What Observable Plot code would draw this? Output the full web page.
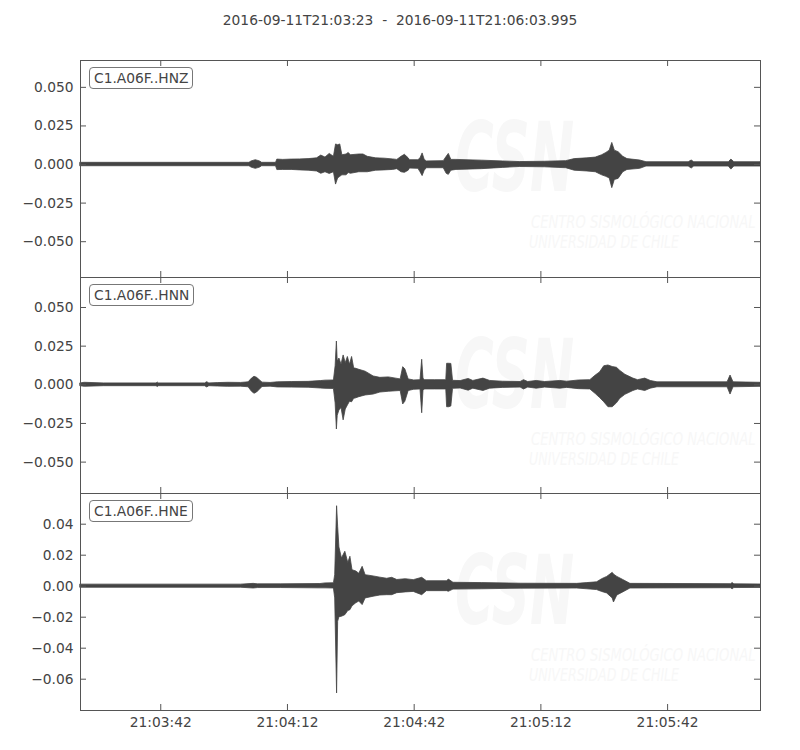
<!DOCTYPE html>
<html>
<head>
<meta charset="utf-8">
<script src="https://cdn.jsdelivr.net/npm/d3@7"></script>
<script src="https://cdn.jsdelivr.net/npm/@observablehq/plot@0.6"></script>
<style>
  html, body { margin: 0; padding: 0; background: #fff; }
  #wrap { position: relative; width: 800px; height: 750px; font-family: "DejaVu Sans", sans-serif; color: #444; }
  .title { position: absolute; top: 12px; left: 0; width: 800px; text-align: center; font-size: 13.8px; line-height: 16px; white-space: pre; }
  .lbl { position: absolute; left: 89px; border: 1px solid #777; border-radius: 4px; padding: 2px 4px; font-size: 13.8px; line-height: 16px; background: #fff; color: #444; z-index: 5; }
  .wm { position: absolute; color: #f7f7f7; font-style: italic; white-space: nowrap; transform-origin: left top; }
</style>
</head>
<body>
<div id="wrap"></div>
<script>
const titleText = "2016-09-11T21:03:23  -  2016-09-11T21:06:03.995";
const startTime = "2016-09-11T21:03:23Z";
const endTime = "2016-09-11T21:06:03.995Z";
const channels = ["C1.A06F..HNZ", "C1.A06F..HNN", "C1.A06F..HNE"];
const xTickLabels = ["21:03:42", "21:04:12", "21:04:42", "21:05:12", "21:05:42"];
const watermarkLines = ["CSN", "CENTRO SISMOLÓGICO NACIONAL", "UNIVERSIDAD DE CHILE"];

// envelope of each trace: seconds after start, upper and lower amplitude
const hnzT = [0,40,40.5,41.5,42.5,43,46.3,46.6,48,50,
  52,54,56,57,58,59,60,60.5,61,61.5,
  62,63,63.5,64,66,67,68,70,72,74,
  75,76,76.8,77.7,78,80,80.5,81,81.5,82,
  86,86.7,87.2,87.8,89,95,100,104,110,115,
  117,120,122,123.5,124.5,125.3,125.9,126.5,127.4,128.5,
  129.5,132.5,134,144,144.7,145.3,153.5,154.1,154.8,161];
const hnzHi = [0.0011,0.0011,0.0020,0.0028,0.0020,0.0011,0.0011,0.0032,0.0030,0.0032,
  0.0033,0.0035,0.0040,0.0058,0.0045,0.0069,0.0050,0.0130,0.0125,0.0130,
  0.0060,0.0065,0.0075,0.0060,0.0065,0.0065,0.0050,0.0040,0.0038,0.0033,
  0.0030,0.0050,0.0063,0.0040,0.0028,0.0028,0.0040,0.0072,0.0030,0.0020,
  0.0022,0.0050,0.0069,0.0030,0.0030,0.0025,0.0020,0.0016,0.0018,0.0022,
  0.0035,0.0040,0.0045,0.0060,0.0075,0.0090,0.0140,0.0090,0.0080,0.0050,
  0.0035,0.0026,0.0015,0.0015,0.0026,0.0015,0.0015,0.0032,0.0015,0.0015];
const hnzLo = [-0.0011,-0.0011,-0.0020,-0.0028,-0.0020,-0.0011,-0.0011,-0.0036,-0.0035,-0.0035,
  -0.0038,-0.0040,-0.0045,-0.0060,-0.0050,-0.0061,-0.0050,-0.0130,-0.0090,-0.0080,
  -0.0070,-0.0070,-0.0055,-0.0060,-0.0050,-0.0050,-0.0050,-0.0040,-0.0038,-0.0035,
  -0.0030,-0.0050,-0.0054,-0.0040,-0.0026,-0.0028,-0.0050,-0.0075,-0.0040,-0.0024,
  -0.0024,-0.0060,-0.0067,-0.0040,-0.0035,-0.0030,-0.0022,-0.0016,-0.0018,-0.0024,
  -0.0040,-0.0045,-0.0050,-0.0070,-0.0080,-0.0090,-0.0153,-0.0100,-0.0093,-0.0050,
  -0.0035,-0.0028,-0.0013,-0.0013,-0.0026,-0.0013,-0.0013,-0.0033,-0.0013,-0.0013];

const hnnT = [0,1,5.5,18,18.3,18.6,29.5,30,30.5,32.5,
  35,38,39.8,40.6,41.2,41.8,43.1,45,46.7,50,
  54,56.9,58,60,60.4,60.7,60.9,61.3,61.8,62.3,
  62.8,63.3,63.8,64.3,64.8,65.1,66,67.5,69.4,71,
  73,75.8,76.4,76.9,77.7,79,80.5,80.9,81.2,81.5,
  84,86.6,86.8,87.3,87.8,88.2,90,91.9,93,95.4,
  97,100,104.2,105,106,108,110,113.6,115.2,118,
  120.7,122,123,124,125,126,127,127.8,129,130.9,
  132,133.7,135,136.6,153.2,153.9,154.6,161];
const hnnHi = [0.0009,0.0013,0.0009,0.0009,0.0014,0.0009,0.0009,0.0017,0.0009,0.0011,
  0.0013,0.0012,0.0016,0.0040,0.0052,0.0045,0.0014,0.0012,0.0016,0.0018,
  0.0019,0.0024,0.0027,0.0028,0.0120,0.0280,0.0150,0.0170,0.0130,0.0190,
  0.0140,0.0180,0.0130,0.0180,0.0105,0.0105,0.0097,0.0085,0.0054,0.0045,
  0.0048,0.0035,0.0114,0.0100,0.0035,0.0028,0.0030,0.0162,0.0040,0.0030,
  0.0030,0.0030,0.0136,0.0136,0.0135,0.0026,0.0024,0.0038,0.0025,0.0040,
  0.0025,0.0020,0.0018,0.0030,0.0018,0.0025,0.0018,0.0025,0.0020,0.0028,
  0.0030,0.0060,0.0080,0.0120,0.0125,0.0115,0.0110,0.0090,0.0065,0.0040,
  0.0030,0.0040,0.0025,0.0016,0.0016,0.0060,0.0016,0.0013];
const hnnLo = [-0.0009,-0.0013,-0.0009,-0.0009,-0.0014,-0.0009,-0.0009,-0.0017,-0.0009,-0.0011,
  -0.0013,-0.0012,-0.0016,-0.0045,-0.0058,-0.0050,-0.0014,-0.0012,-0.0017,-0.0018,
  -0.0019,-0.0024,-0.0026,-0.0027,-0.0120,-0.0289,-0.0200,-0.0166,-0.0150,-0.0230,
  -0.0160,-0.0134,-0.0110,-0.0113,-0.0090,-0.0089,-0.0080,-0.0069,-0.0063,-0.0050,
  -0.0045,-0.0040,-0.0127,-0.0110,-0.0040,-0.0032,-0.0030,-0.0184,-0.0040,-0.0030,
  -0.0030,-0.0030,-0.0145,-0.0145,-0.0140,-0.0026,-0.0024,-0.0038,-0.0025,-0.0040,
  -0.0025,-0.0020,-0.0018,-0.0030,-0.0018,-0.0025,-0.0018,-0.0025,-0.0020,-0.0028,
  -0.0030,-0.0060,-0.0085,-0.0113,-0.0145,-0.0145,-0.0120,-0.0090,-0.0065,-0.0040,
  -0.0030,-0.0040,-0.0025,-0.0016,-0.0016,-0.0063,-0.0016,-0.0013];

const hneT = [0,38,41,42,47.4,56.8,58,60,60.3,60.75,
  61,61.3,61.9,62.7,63.4,63.9,64.4,65.3,66,66.8,
  67.5,69.4,71,72.6,73.8,75,77,78.9,80.9,82,
  86.8,87.2,88.3,95,104.2,117.6,120,122.3,123.5,124.7,
  126,126.3,127.1,128.5,130.2,154,154.4,154.8,161];
const hneHi = [0.0010,0.0010,0.0015,0.0012,0.0012,0.0014,0.0018,0.0019,0.0071,0.0516,
  0.0383,0.0250,0.0179,0.0222,0.0150,0.0190,0.0103,0.0095,0.0080,0.0125,
  0.0071,0.0063,0.0055,0.0048,0.0054,0.0040,0.0045,0.0039,0.0054,0.0032,
  0.0032,0.0043,0.0022,0.0020,0.0016,0.0015,0.0020,0.0025,0.0045,0.0060,
  0.0086,0.0075,0.0060,0.0040,0.0015,0.0013,0.0020,0.0012,0.0011];
const hneLo = [-0.0010,-0.0010,-0.0015,-0.0012,-0.0012,-0.0014,-0.0014,-0.0015,-0.0079,-0.0692,
  -0.0230,-0.0200,-0.0197,-0.0187,-0.0160,-0.0155,-0.0130,-0.0110,-0.0099,-0.0122,
  -0.0079,-0.0068,-0.0060,-0.0058,-0.0058,-0.0045,-0.0040,-0.0037,-0.0058,-0.0032,
  -0.0032,-0.0036,-0.0022,-0.0020,-0.0016,-0.0015,-0.0020,-0.0025,-0.0037,-0.0047,
  -0.0079,-0.0105,-0.0060,-0.0040,-0.0015,-0.0013,-0.0020,-0.0012,-0.0011];

// axis limits and ticks of each panel
const yDomains = [[-0.0732, 0.0674], [-0.0703, 0.0694], [-0.0802, 0.0598]];
const yTicksZN = [0.05, 0.025, 0, -0.025, -0.05];
const yLabelsZN = ["0.050", "0.025", "0.000", "\u22120.025", "\u22120.050"];
const yTicksE = [0.04, 0.02, 0, -0.02, -0.04, -0.06];
const yLabelsE = ["0.04", "0.02", "0.00", "\u22120.02", "\u22120.04", "\u22120.06"];

const t0 = new Date(startTime);
const t1 = new Date(endTime);
const xTicks = xTickLabels.map(s => new Date("2016-09-11T" + s + "Z"));
function rows(t, hi, lo) {
  return t.map((s, i) => ({time: new Date(t0.getTime() + s * 1000), hi: hi[i], lo: lo[i]}));
}
const traces = [rows(hnzT, hnzHi, hnzLo), rows(hnnT, hnnHi, hnnLo), rows(hneT, hneHi, hneLo)];

const wrap = document.getElementById("wrap");
const title = document.createElement("div");
title.className = "title";
title.textContent = titleText;
wrap.appendChild(title);

const panelTops = [60, 277, 493];
const panelHeights = [217, 216, 217];
const W = 800, mL = 80, mR = 40, mT = 5;
const innerW = W - mL - mR;
const ink = "#444";
const edge = "#555";

// very faint watermark behind each trace
panelTops.forEach(top => {
  const a = document.createElement("div");
  a.className = "wm";
  a.style.cssText = `left:455px; top:${top + 50}px; font-size:96px; line-height:96px; font-weight:bold; transform:scaleX(0.55);`;
  a.textContent = watermarkLines[0];
  wrap.appendChild(a);
  const b = document.createElement("div");
  b.className = "wm";
  b.style.cssText = `left:531px; top:${top + 153}px; font-size:18px; line-height:18px; transform:scaleX(0.73);`;
  b.textContent = watermarkLines[1];
  wrap.appendChild(b);
  const c = document.createElement("div");
  c.className = "wm";
  c.style.cssText = `left:529px; top:${top + 173}px; font-size:18px; line-height:18px; transform:scaleX(0.70);`;
  c.textContent = watermarkLines[2];
  wrap.appendChild(c);
});

traces.forEach((data, k) => {
  const H = panelHeights[k];
  const last = k === 2;
  const mB = last ? 40 : 5;
  const yTicks = last ? yTicksE : yTicksZN;
  const yLabels = last ? yLabelsE : yLabelsZN;
  const marks = [
    Plot.areaY(data, {x: "time", y1: "lo", y2: "hi", fill: ink, stroke: ink, strokeWidth: 0.8}),
    Plot.frame({stroke: edge, strokeWidth: 1}),
    Plot.ruleX(xTicks, {x: d => d, stroke: edge, insetTop: H - 6}),
    Plot.ruleX(xTicks, {x: d => d, stroke: edge, insetBottom: H - 6}),
    Plot.ruleY(yTicks, {y: d => d, stroke: edge, insetRight: innerW - 6}),
    Plot.ruleY(yTicks, {y: d => d, stroke: edge, insetLeft: innerW - 6}),
    Plot.axisY(yTicks, {tickSize: 0, tickPadding: 7, tickFormat: d => yLabels[yTicks.indexOf(d)], fill: ink})
  ];
  if (last) {
    marks.push(Plot.axisX(xTicks, {tickSize: 0, tickPadding: 7, tickFormat: d => xTickLabels[xTicks.findIndex(v => +v === +d)], fill: ink}));
  }
  const svg = Plot.plot({
    width: W,
    height: H + mT + mB,
    marginLeft: mL, marginRight: mR, marginTop: mT, marginBottom: mB,
    x: {type: "utc", domain: [t0, t1], axis: last ? undefined : null},
    y: {domain: yDomains[k]},
    style: {position: "absolute", left: "0px", top: (panelTops[k] - mT) + "px", background: "transparent",
            fontFamily: "DejaVu Sans", fontSize: "13.8px", color: ink, overflow: "visible"},
    marks
  });
  wrap.appendChild(svg);
  const lbl = document.createElement("div");
  lbl.className = "lbl";
  lbl.style.top = (panelTops[k] + 7) + "px";
  lbl.textContent = channels[k];
  wrap.appendChild(lbl);
});
</script>
</body>
</html>
